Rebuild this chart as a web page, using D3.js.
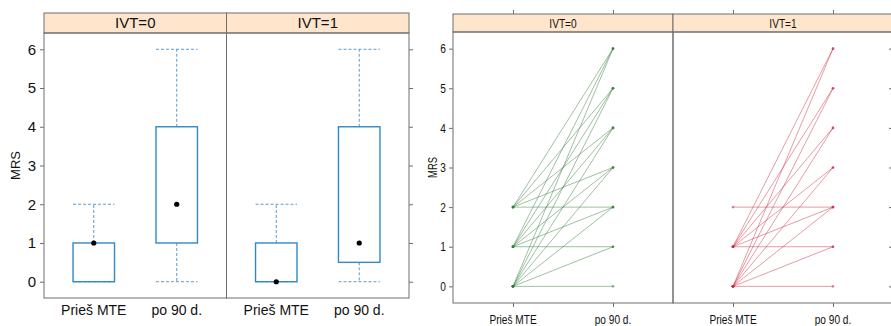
<!DOCTYPE html>
<html>
<head>
<meta charset="utf-8">
<script src="https://cdn.jsdelivr.net/npm/d3@7"></script>
<style>
  body { margin: 0; background: #fff; }
  svg { display: block; font-family: "Liberation Sans", Arial, sans-serif; }
</style>
</head>
<body>
<svg id="chart" width="891" height="326"></svg>
<script>
// ---- data ----
const times = ["Prieš MTE", "po 90 d."];
const groups = ["IVT=0", "IVT=1"];
const yTicks = [0, 1, 2, 3, 4, 5, 6];
const yLabel = "MRS";

// box summaries per time point: [lower whisker, Q1, median, Q3, upper whisker]
const boxIVT0 = [[0, 0, 1, 1, 2], [0, 1, 2, 4, 6]];
const boxIVT1 = [[0, 0, 0, 1, 2], [0, 0.5, 1, 4, 6]];

// individual MRS changes: [before, after 90 days]
const pathsIVT0 = [
  [0, 0], [0, 1], [0, 2], [0, 3], [0, 4], [0, 5], [0, 6],
  [1, 1], [1, 2], [1, 3], [1, 4], [1, 5], [1, 6],
  [2, 2], [2, 3], [2, 4], [2, 5], [2, 6]
];
const pathsIVT1 = [
  [0, 0], [0, 1], [0, 2], [0, 3], [0, 4], [0, 5], [0, 6],
  [1, 1], [1, 2], [1, 3], [1, 4], [1, 5], [1, 6],
  [2, 2]
];

const boxes = [boxIVT0, boxIVT1];
const paths = [pathsIVT0, pathsIVT1];
const pathColors = ["#2f7a34", "#c8283c"];

const svg = d3.select("#chart");
const frameCol = "#6e6e6e";
const stripFill = "#ffe5cc";
const intFmt = d3.format("d");

// ---------- left: box-and-whisker panels ----------
(function boxPanels() {
  const left = 44, right = 409, stripTop = 13, top = 33, bottom = 298;
  const pw = (right - left) / 2;
  const y = d3.scaleLinear().domain([-0.42, 6.42]).range([bottom, top]);
  const g = svg.append("g");

  groups.forEach((name, i) => {
    const x0 = left + i * pw;
    const x = d3.scalePoint().domain(times).range([x0, x0 + pw]).padding(0.6);
    const bw = x.step() * 0.5;

    // strip
    g.append("rect").attr("x", x0).attr("y", stripTop).attr("width", pw).attr("height", top - stripTop)
      .attr("fill", stripFill).attr("stroke", frameCol).attr("stroke-width", 1);
    g.append("text").attr("x", x0 + pw / 2).attr("y", (stripTop + top) / 2).attr("dy", "0.36em")
      .attr("text-anchor", "middle").attr("font-size", 15).attr("fill", "#111").text(name);

    // boxes
    times.forEach((t, k) => {
      const [lo, q1, med, q3, hi] = boxes[i][k];
      const cx = x(t);
      const wh = g.append("g").attr("stroke", "#5b9bd0").attr("stroke-width", 1)
        .attr("stroke-dasharray", "3,2").attr("fill", "none");
      wh.append("line").attr("x1", cx).attr("x2", cx).attr("y1", y(q3)).attr("y2", y(hi));
      wh.append("line").attr("x1", cx).attr("x2", cx).attr("y1", y(q1)).attr("y2", y(lo));
      wh.append("line").attr("x1", cx - bw / 2).attr("x2", cx + bw / 2).attr("y1", y(hi)).attr("y2", y(hi));
      wh.append("line").attr("x1", cx - bw / 2).attr("x2", cx + bw / 2).attr("y1", y(lo)).attr("y2", y(lo));
      g.append("rect").attr("x", cx - bw / 2).attr("y", y(q3)).attr("width", bw)
        .attr("height", Math.max(0, y(q1) - y(q3)))
        .attr("fill", "none").attr("stroke", "#2f88c9").attr("stroke-width", 1.4);
      g.append("circle").attr("cx", cx).attr("cy", y(med)).attr("r", 2.6).attr("fill", "#000");

      // category label
      g.append("text").attr("x", cx).attr("y", 315).attr("text-anchor", "middle")
        .attr("font-size", 14).attr("fill", "#111").text(t);
    });

    // panel frame
    g.append("rect").attr("x", x0).attr("y", top).attr("width", pw).attr("height", bottom - top)
      .attr("fill", "none").attr("stroke", frameCol).attr("stroke-width", 1);
  });

  // y axes: labels on the left, ticks on both sides
  const ax = g.append("g").attr("transform", `translate(${left},0)`)
    .call(d3.axisLeft(y).tickValues(yTicks).tickFormat(intFmt).tickSize(4).tickPadding(4));
  ax.select(".domain").remove();
  ax.selectAll("line").attr("stroke", frameCol);
  ax.selectAll("text").attr("font-size", 15).attr("fill", "#111")
    .attr("font-family", "Liberation Sans, Arial, sans-serif");

  const axr = g.append("g").attr("transform", `translate(${right},0)`)
    .call(d3.axisRight(y).tickValues(yTicks).tickSize(4).tickFormat(""));
  axr.select(".domain").remove();
  axr.selectAll("line").attr("stroke", frameCol);

  g.append("text").attr("transform", `translate(20,${(top + bottom) / 2}) rotate(-90)`)
    .attr("text-anchor", "middle").attr("font-size", 13).attr("fill", "#111").text(yLabel);
})();

// ---------- right: individual change panels ----------
(function changePanels() {
  const left = 453, pw = 220, stripTop = 14, top = 32, bottom = 303;
  const right = left + 2 * pw;
  const sx = 0.78;
  const y = d3.scaleLinear().domain([-0.42, 6.42]).range([bottom, top]);
  const g = svg.append("g");

  groups.forEach((name, i) => {
    const x0 = left + i * pw;
    const x = d3.scalePoint().domain(times).range([x0, x0 + pw]).padding(0.6);

    g.append("rect").attr("x", x0).attr("y", stripTop).attr("width", pw).attr("height", top - stripTop)
      .attr("fill", stripFill).attr("stroke", frameCol).attr("stroke-width", 1);
    g.append("text").attr("transform", `translate(${x0 + pw / 2},28) scale(${sx},1)`)
      .attr("text-anchor", "middle").attr("font-size", 13).attr("fill", "#111").text(name);

    g.append("rect").attr("x", x0).attr("y", top).attr("width", pw).attr("height", bottom - top)
      .attr("fill", "none").attr("stroke", frameCol).attr("stroke-width", 1);

    const col = pathColors[i];
    const lg = g.append("g");
    lg.selectAll("line").data(paths[i]).join("line")
      .attr("x1", x(times[0])).attr("x2", x(times[1]))
      .attr("y1", d => y(d[0])).attr("y2", d => y(d[1]))
      .attr("stroke", col).attr("stroke-opacity", 0.55).attr("stroke-width", 0.85);

    const pts = [];
    paths[i].forEach(d => { pts.push([0, d[0]]); pts.push([1, d[1]]); });
    lg.selectAll("circle").data(pts).join("circle")
      .attr("cx", d => x(times[d[0]])).attr("cy", d => y(d[1])).attr("r", 1.3)
      .attr("fill", col).attr("fill-opacity", 0.55);

    // top and bottom ticks with category labels
    const axb = g.append("g").attr("transform", `translate(0,${bottom})`)
      .call(d3.axisBottom(x).tickSize(4).tickPadding(0).tickFormat(""));
    axb.select(".domain").remove();
    axb.selectAll("line").attr("stroke", frameCol);
    const axt = g.append("g").attr("transform", `translate(0,${stripTop})`)
      .call(d3.axisTop(x).tickSize(4).tickFormat(""));
    axt.select(".domain").remove();
    axt.selectAll("line").attr("stroke", frameCol);

    times.forEach(t => {
      g.append("text").attr("transform", `translate(${x(t)},324) scale(${sx},1)`)
        .attr("text-anchor", "middle").attr("font-size", 13).attr("fill", "#111").text(t);
    });
  });

  const ax = g.append("g").attr("transform", `translate(${left},0)`)
    .call(d3.axisLeft(y).tickValues(yTicks).tickFormat(intFmt).tickSize(4));
  ax.select(".domain").remove();
  ax.selectAll("line").attr("stroke", frameCol);
  ax.selectAll("text").attr("x", null).attr("transform", `translate(-7,0) scale(${sx},1)`)
    .attr("font-size", 13).attr("fill", "#111")
    .attr("font-family", "Liberation Sans, Arial, sans-serif");

  const axr = g.append("g").attr("transform", `translate(${right - 4},0)`)
    .call(d3.axisRight(y).tickValues(yTicks).tickSize(4).tickFormat(""));
  axr.select(".domain").remove();
  axr.selectAll("line").attr("stroke", frameCol);

  g.append("text").attr("transform", `translate(437,${(top + bottom) / 2}) rotate(-90) scale(${sx},1)`)
    .attr("text-anchor", "middle").attr("font-size", 12).attr("fill", "#111").text(yLabel);
})();
</script>
</body>
</html>
